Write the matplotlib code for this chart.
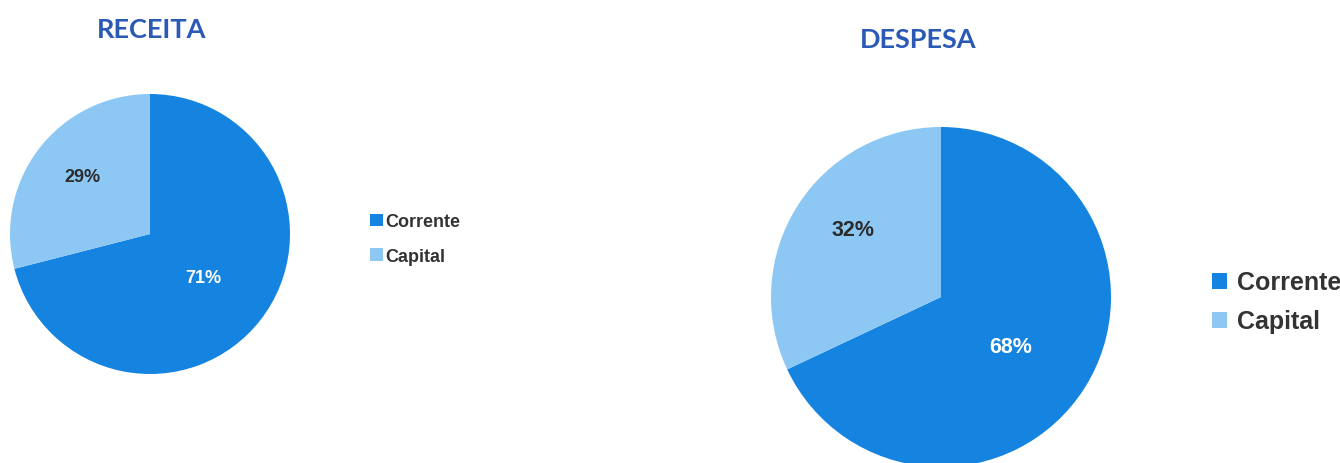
import matplotlib
matplotlib.use('Agg')
import matplotlib.pyplot as plt
from matplotlib.patches import Patch

# dados
labels = ['Corrente', 'Capital']
receita = [71, 29]
despesa = [68, 32]
cores = ['#1583e0', '#8dc8f5']
cor_titulo = '#2a59b6'

W, H = 1340, 464
fig = plt.figure(figsize=(W / 100, H / 100), dpi=100)
fig.patch.set_facecolor('white')


def pizza(rect, valores, fsize, pos_corr, pos_cap):
    ax = fig.add_axes(rect)
    wedges, texts, autotexts = ax.pie(valores, colors=cores, startangle=90, counterclock=False,
                                      autopct='%1.0f%%', pctdistance=0.56,
                                      wedgeprops=dict(linewidth=0),
                                      textprops=dict(fontsize=fsize, fontweight='bold',
                                                     family='Liberation Sans'))
    autotexts[0].set_color('white')
    autotexts[1].set_color('#2b2b2b')
    autotexts[0].set_position(pos_corr)
    autotexts[1].set_position(pos_cap)
    ax.set_xlim(-1, 1)
    ax.set_ylim(-1, 1)
    ax.axis('off')
    return ax


# receita - esquerda
ax1 = pizza([10 / W, (H - 375) / H, 280 / W, 280 / H], receita, 13,
            (0.38, -0.31), (-0.48, 0.41))
fig.text(152 / W, 1 - 30 / H, 'RECEITA', ha='center', va='center', color=cor_titulo,
         fontsize=19.5, fontweight='bold', family='Lato')

# despesa - direita
ax2 = pizza([771 / W, (H - 468) / H, 340 / W, 340 / H], despesa, 15.5,
            (0.41, -0.29), (-0.52, 0.40))
fig.text(918 / W, 1 - 40 / H, 'DESPESA', ha='center', va='center', color=cor_titulo,
         fontsize=19.5, fontweight='bold', family='Lato')

handles = [Patch(facecolor=c, edgecolor='none') for c in cores]

fig.legend(handles, labels, loc='center left', bbox_to_anchor=(370 / W, 1 - 240 / H),
           frameon=False, handlelength=0.7, handleheight=0.7, handletextpad=0.15,
           labelspacing=0.95, borderaxespad=0, borderpad=0,
           prop=dict(family='Liberation Sans', weight='bold', size=13),
           labelcolor='#333333')

fig.legend(handles, labels, loc='center left', bbox_to_anchor=(1212 / W, 1 - 303 / H),
           frameon=False, handlelength=0.6, handleheight=0.6, handletextpad=0.4,
           labelspacing=0.6, borderaxespad=0, borderpad=0,
           prop=dict(family='Liberation Sans', weight='bold', size=18),
           labelcolor='#333333')

plt.savefig('out.png', dpi=100, facecolor='white')
